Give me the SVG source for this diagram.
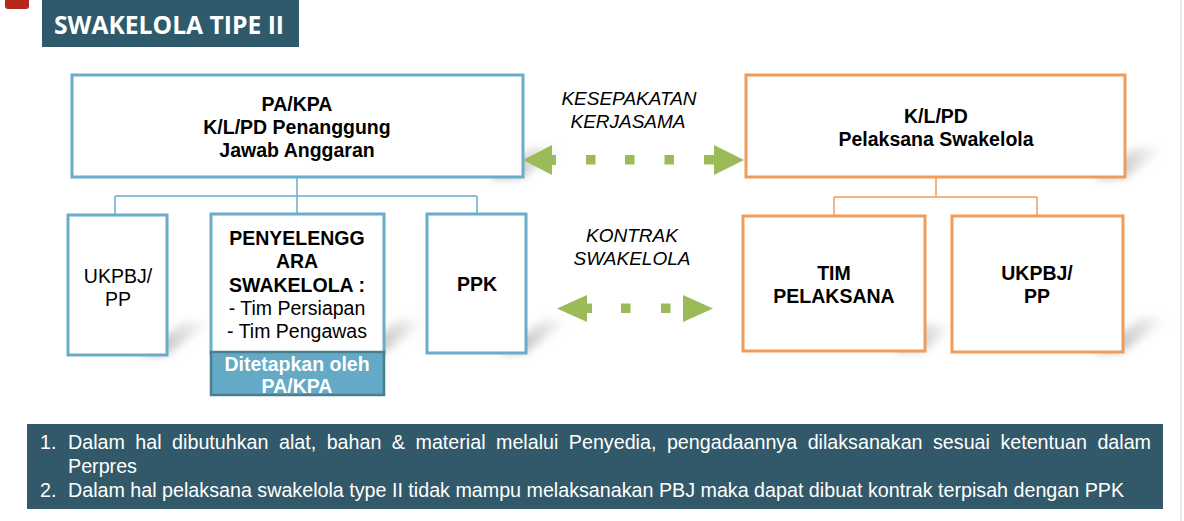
<svg xmlns="http://www.w3.org/2000/svg" width="1184" height="521" viewBox="0 0 1184 521">
<defs>
<style>
.bx{fill:#fff;stroke:#69adc9;stroke-width:3}
.ox{fill:#fff;stroke:#ef9b59;stroke-width:3}
.bl{fill:none;stroke:#69adc9;stroke-width:1.5}
.ol{fill:none;stroke:#ef9b59;stroke-width:1.5}
.t{font-family:"Liberation Sans",Arial,sans-serif;font-size:19.5px;fill:#000;text-anchor:middle}
.b{font-weight:bold}
.it{font-family:"Liberation Sans",Arial,sans-serif;font-size:19px;font-style:italic;fill:#000;text-anchor:middle}
.g{fill:#9bbb59}
.n{font-family:"Liberation Sans",Arial,sans-serif;font-size:19.7px;fill:#fff}
.sh{fill:url(#shg);filter:url(#blur)}
</style>
<filter id="blur" x="-50%" y="-50%" width="200%" height="200%"><feGaussianBlur stdDeviation="4"/></filter>
<linearGradient id="shg" x1="0" y1="0" x2="1" y2="0"><stop offset="0" stop-color="#888" stop-opacity="0.8"/><stop offset="1" stop-color="#aaa" stop-opacity="0"/></linearGradient>
</defs>
<rect width="1184" height="521" fill="#fff"/>
<rect x="1180" y="0" width="2" height="521" fill="#ececec"/>
<path d="M5 0H29V6Q29 9 26 9H8Q5 9 5 6Z" fill="#b5281c"/>
<g id="title">
<rect x="42" y="0" width="257" height="47" fill="#2f5a6b"/>
<text x="54" y="34" font-family="'Open Sans',sans-serif" font-weight="bold" font-size="25" fill="#fff" textLength="230" lengthAdjust="spacingAndGlyphs">SWAKELOLA TIPE II</text>
</g>
<g id="shadows">
<polygon class="sh" points="490,178 523,178 565,148 532,148"/>
<polygon class="sh" points="140,355 167,355 212,322 185,322"/>
<polygon class="sh" points="355,353 384,353 428,320 399,320"/>
<polygon class="sh" points="500,353 526,353 570,320 544,320"/>
<polygon class="sh" points="1095,178 1125,178 1165,148 1135,148"/>
<polygon class="sh" points="895,351 925,351 955,325 925,325"/>
<polygon class="sh" points="1095,352 1123,352 1170,318 1142,318"/>
</g>
<g id="connectors">
<path class="bl" d="M297 177V196M115 196H477M115 196V215M297 196V214M477 196V214"/>
<path class="ol" d="M936 177V197M834 197H1037M834 197V216M1037 197V216"/>
</g>
<g id="arrow-kesepakatan">
<polygon class="g" points="523,160 552,145 552,155 556,155 556,165 552,165 552,175"/>
<rect class="g" x="586" y="155" width="9.5" height="9.5"/>
<rect class="g" x="625" y="155" width="9.5" height="9.5"/>
<rect class="g" x="664.5" y="155" width="9.5" height="9.5"/>
<rect class="g" x="704" y="155" width="10" height="9.5"/>
<polygon class="g" points="714,145 744,160 714,175"/>
<text class="it" x="629" y="105">KESEPAKATAN</text>
<text class="it" x="628" y="128">KERJASAMA</text>
</g>
<g id="arrow-kontrak">
<polygon class="g" points="557,308.5 587,295 587,303.5 592,303.5 592,313 587,313 587,322"/>
<rect class="g" x="621" y="303.5" width="9.5" height="9.5"/>
<rect class="g" x="661" y="303.5" width="9.5" height="9.5"/>
<polygon class="g" points="683,295 713,308.5 683,322"/>
<text class="it" x="632" y="242">KONTRAK</text>
<text class="it" x="632" y="265">SWAKELOLA</text>
</g>
<g id="pa-kpa">
<rect class="bx" x="72" y="75" width="451" height="102"/>
<text class="t b" x="297" y="111">PA/KPA</text>
<text class="t b" x="297" y="134">K/L/PD Penanggung</text>
<text class="t b" x="297" y="157">Jawab Anggaran</text>
</g>
<g id="ukpbj-left">
<rect class="bx" x="68" y="215" width="99" height="140"/>
<text class="t" x="118" y="283">UKPBJ/</text>
<text class="t" x="118" y="306">PP</text>
</g>
<g id="penyelenggara">
<rect class="bx" x="211" y="214" width="173" height="139"/>
<text class="t b" x="297" y="245">PENYELENGG</text>
<text class="t b" x="297" y="268">ARA</text>
<text class="t b" x="297" y="292">SWAKELOLA :</text>
<text class="t" x="297" y="315">- Tim Persiapan</text>
<text class="t" x="297" y="338">- Tim Pengawas</text>
</g>
<g id="ditetapkan">
<rect x="211" y="352" width="173" height="43" fill="#64a9c5" stroke="#4a7f92" stroke-width="2.5"/>
<text class="t b" x="297" y="371" fill="#fff" style="fill:#fff">Ditetapkan oleh</text>
<text class="t b" x="297" y="393" style="fill:#fff">PA/KPA</text>
</g>
<g id="ppk">
<rect class="bx" x="427" y="214" width="99" height="139"/>
<text class="t b" x="477" y="291">PPK</text>
</g>
<g id="klpd-pelaksana">
<rect class="ox" x="746" y="75" width="379" height="102"/>
<text class="t b" x="936" y="123">K/L/PD</text>
<text class="t b" x="936" y="146">Pelaksana Swakelola</text>
</g>
<g id="tim-pelaksana">
<rect class="ox" x="743" y="216" width="182" height="135"/>
<text class="t b" x="834" y="280">TIM</text>
<text class="t b" x="834" y="303">PELAKSANA</text>
</g>
<g id="ukpbj-right">
<rect class="ox" x="952" y="216" width="171" height="136"/>
<text class="t b" x="1037" y="280">UKPBJ/</text>
<text class="t b" x="1037" y="303">PP</text>
</g>
<g id="notes">
<rect x="27" y="424" width="1136" height="85" fill="#31596a"/>
<text class="n" x="40" y="449">1.</text>
<text class="n" x="68" y="449" textLength="1083" lengthAdjust="spacing" word-spacing="5">Dalam hal dibutuhkan alat, bahan &amp; material melalui Penyedia, pengadaannya dilaksanakan sesuai ketentuan dalam</text>
<text class="n" x="68" y="473">Perpres</text>
<text class="n" x="40" y="497">2.</text>
<text class="n" x="68" y="497">Dalam hal pelaksana swakelola type II tidak mampu melaksanakan PBJ maka dapat dibuat kontrak terpisah dengan PPK</text>
</g>
</svg>
